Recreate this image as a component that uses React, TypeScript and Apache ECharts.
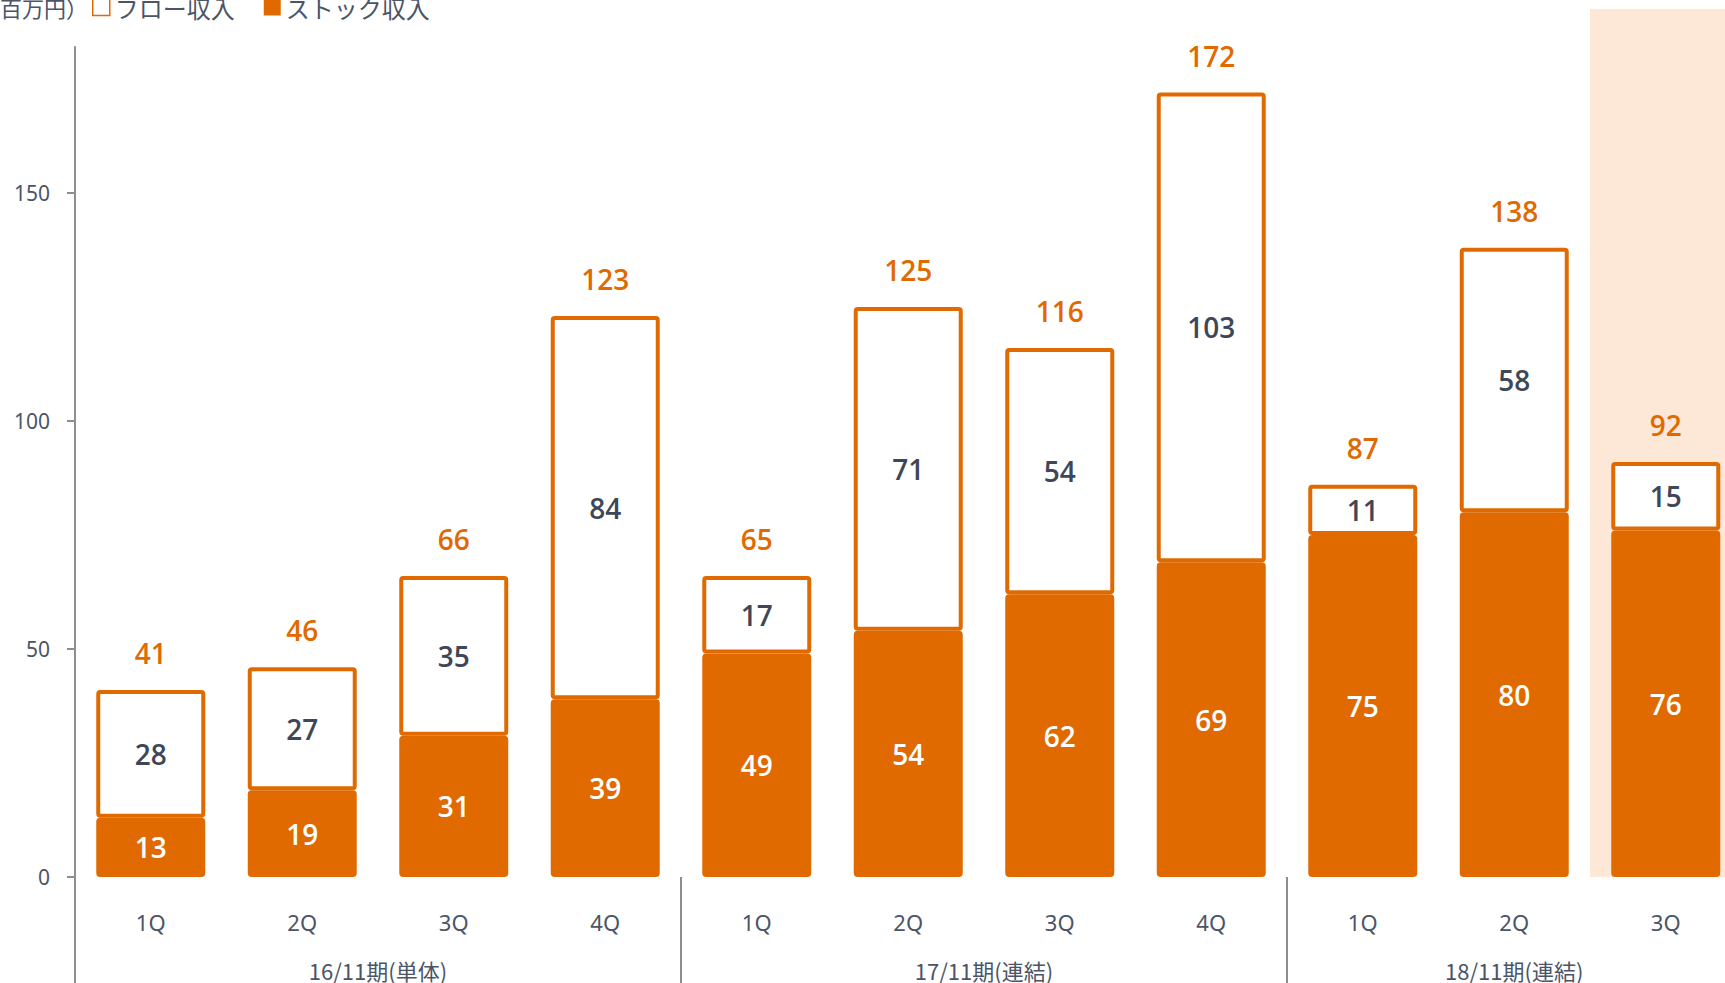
import React, { useEffect, useRef } from "react";
import * as echarts from "echarts";

const categories = ["1Q", "2Q", "3Q", "4Q", "1Q", "2Q", "3Q", "4Q", "1Q", "2Q", "3Q"];
const stockValues = [13, 19, 31, 39, 49, 54, 62, 69, 75, 80, 76];
const flowValues = [28, 27, 35, 84, 17, 71, 54, 103, 11, 58, 15];
const totalValues = [41, 46, 66, 123, 65, 125, 116, 172, 87, 138, 92];
const yTicks = [0, 50, 100, 150];
const groupLabels = ["16/11期(単体)", "17/11期(連結)", "18/11期(連結)"];
const groupCenters = [2, 6, 9.5];
const groupBoundaries = [0, 4, 8];
const highlightIndex = 10;

const ORANGE = "#E06A00";
const DARK = "#3E4757";
const AXIS_TEXT = "#4B5567";
const AXIS_LINE = "#8E8E8E";
const BAND = "#FDE7D6";
const FONT = "'Noto Sans', 'Noto Sans CJK JP', sans-serif";
const NUM_FONT = "'Open Sans', 'Noto Sans', sans-serif";
const CJK = "'Noto Sans CJK JP', 'Noto Sans', sans-serif";

const CHART_W = 1742;

export default function App() {
  const ref = useRef<HTMLDivElement>(null);
  useEffect(() => {
    if (!ref.current) return;
    const chart = echarts.init(ref.current, undefined, { renderer: "svg" });
    const band = categories.map((_, i) => (i === highlightIndex ? 1 : null));
    chart.setOption({
      animation: false,
      backgroundColor: "#ffffff",
      graphic: [
        {
          type: "text",
          x: 88,
          y: 7,
          style: {
            text: "（単位：百万円）",
            fontSize: 22,
            fontFamily: CJK,
            fill: AXIS_TEXT,
            align: "right",
            verticalAlign: "middle",
          },
        },
      ],
      legend: {
        left: 92,
        top: -5,
        padding: 0,
        itemWidth: 17,
        itemHeight: 17,
        itemGap: 29,
        selectedMode: false,
        textStyle: { fontSize: 24, fontFamily: CJK, color: AXIS_TEXT },
        data: [
          {
            name: "フロー収入",
            icon: "rect",
            itemStyle: { color: "#ffffff", borderColor: ORANGE, borderWidth: 1.5 },
          },
          {
            name: "ストック収入",
            icon: "rect",
            itemStyle: { color: ORANGE, borderWidth: 0 },
          },
        ],
      },
      grid: [
        { left: 75, right: 0.5, top: 47, bottom: 106, containLabel: false },
        { left: 75, right: 0.5, top: 9, bottom: 106, containLabel: false },
      ],
      xAxis: [
        {
          type: "category",
          gridIndex: 0,
          data: categories,
          axisLine: { show: false },
          axisTick: { show: false },
          axisLabel: {
            margin: 34,
            fontSize: 22,
            fontFamily: FONT,
            color: AXIS_TEXT,
          },
        },
        {
          type: "value",
          gridIndex: 0,
          position: "bottom",
          min: 0,
          max: 11,
          axisLine: { show: false },
          splitLine: { show: false },
          axisTick: {
            show: true,
            customValues: groupBoundaries,
            length: 112,
            lineStyle: { color: AXIS_LINE, width: 2 },
          },
          axisLabel: {
            customValues: groupCenters,
            margin: 82,
            fontSize: 22,
            fontFamily: CJK,
            color: AXIS_TEXT,
            formatter: (v: number) => {
              const k = groupCenters.indexOf(v);
              return k >= 0 ? groupLabels[k] : "";
            },
          },
        },
        {
          type: "category",
          gridIndex: 1,
          data: categories,
          show: false,
        },
      ],
      yAxis: [
        {
          type: "value",
          gridIndex: 0,
          min: 0,
          max: 182,
          interval: 50,
          splitLine: { show: false },
          axisLine: { show: true, lineStyle: { color: AXIS_LINE, width: 2 } },
          axisTick: {
            show: true,
            customValues: yTicks,
            length: 8,
            lineStyle: { color: AXIS_LINE, width: 2 },
          },
          axisLabel: {
            customValues: yTicks,
            margin: 25,
            fontSize: 21,
            fontFamily: FONT,
            color: AXIS_TEXT,
          },
        },
        {
          type: "value",
          gridIndex: 1,
          min: 0,
          max: 1,
          show: false,
        },
      ],
      series: [
        {
          name: "band",
          type: "bar",
          xAxisIndex: 2,
          yAxisIndex: 1,
          data: band,
          barWidth: "100%",
          silent: true,
          z: 0,
          itemStyle: { color: BAND },
        },
        {
          name: "ストック収入",
          type: "bar",
          stack: "total",
          xAxisIndex: 0,
          yAxisIndex: 0,
          data: stockValues,
          barWidth: 109,
          z: 3,
          itemStyle: { color: ORANGE, borderColor: ORANGE, borderWidth: 4, borderRadius: 2 },
          label: {
            show: true,
            position: "inside",
            color: "#ffffff",
            fontSize: 28,
            fontWeight: 600,
            fontFamily: NUM_FONT,
          },
        },
        {
          name: "フロー収入",
          type: "bar",
          stack: "total",
          xAxisIndex: 0,
          yAxisIndex: 0,
          data: flowValues,
          barWidth: 109,
          z: 3,
          itemStyle: { color: "#ffffff", borderColor: ORANGE, borderWidth: 4, borderRadius: 2 },
          label: {
            show: true,
            position: "inside",
            color: DARK,
            fontSize: 28,
            fontWeight: 600,
            fontFamily: NUM_FONT,
          },
        },
        {
          name: "合計",
          type: "bar",
          stack: "total",
          xAxisIndex: 0,
          yAxisIndex: 0,
          data: categories.map(() => 0),
          barWidth: 109,
          z: 4,
          itemStyle: { color: "rgba(0,0,0,0)", borderWidth: 0 },
          label: {
            show: true,
            position: "top",
            distance: 23,
            color: ORANGE,
            fontSize: 28,
            fontWeight: 600,
            fontFamily: NUM_FONT,
            formatter: (p: any) => String(totalValues[p.dataIndex]),
          },
        },
      ],
    });
    return () => chart.dispose();
  }, []);
  return (
    <div
      style={{
        position: "fixed",
        left: 0,
        top: 0,
        width: 1725,
        height: 983,
        overflow: "hidden",
        background: "#ffffff",
      }}
    >
      <div ref={ref} style={{ width: CHART_W, height: 983 }} />
    </div>
  );
}
